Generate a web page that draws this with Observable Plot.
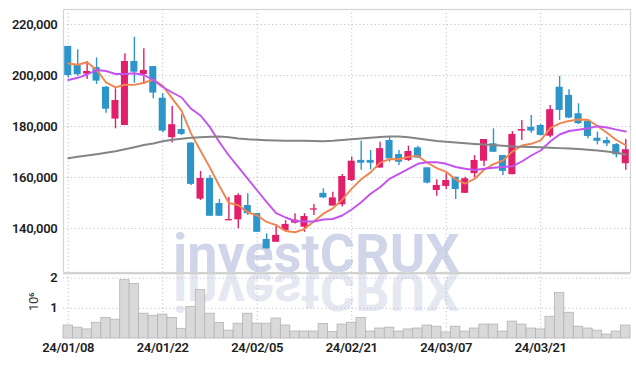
<!DOCTYPE html>
<html><head><meta charset="utf-8">
<script src="https://cdn.jsdelivr.net/npm/d3@7"></script>
<script src="https://cdn.jsdelivr.net/npm/@observablehq/plot@0.6"></script>
<style>
body{margin:0;background:#fff;}
#chart{position:relative;width:636px;height:366px;overflow:hidden;}
#chart svg{display:block;position:absolute;left:0;}
</style></head><body><div id="chart"></div>
<script>
const dates = ["24/01/08","24/01/09","24/01/10","24/01/11","24/01/12","24/01/15","24/01/16","24/01/17","24/01/18","24/01/19",
"24/01/22","24/01/23","24/01/24","24/01/25","24/01/26","24/01/29","24/01/30","24/01/31","24/02/01","24/02/02",
"24/02/05","24/02/06","24/02/07","24/02/08","24/02/13","24/02/14","24/02/15","24/02/16","24/02/19","24/02/20",
"24/02/21","24/02/22","24/02/23","24/02/26","24/02/27","24/02/28","24/02/29","24/03/04","24/03/05","24/03/06",
"24/03/07","24/03/08","24/03/11","24/03/12","24/03/13","24/03/14","24/03/15","24/03/18","24/03/19","24/03/20",
"24/03/21","24/03/22","24/03/25","24/03/26","24/03/27","24/03/28","24/03/29","24/04/01","24/04/02","24/04/03"];
const open = [211400,203900,200500,203100,195400,182900,180400,205500,200400,203500,
191100,175600,178800,173500,151500,159600,149800,143000,143400,149000,
145900,135700,134600,139200,142100,140500,147200,153800,148800,149300,
158800,166700,166700,163700,174500,169000,166700,171600,163800,154900,
156500,160100,153800,161500,166400,173200,168600,161100,178200,179700,
180400,176200,195400,192200,185000,182000,175400,174500,172900,165400];
const high = [211400,210100,205500,206900,195700,194800,208500,215000,210500,203500,
192800,187800,184600,173500,162400,160800,151400,152200,153600,153600,
145900,137900,141600,143100,145800,145800,149400,155600,154200,161200,
168000,174200,170600,173800,175600,170600,172300,172300,163800,159100,
161500,160100,160100,168600,174900,179100,168600,178000,182400,184300,
180800,188200,199600,194400,188900,182400,177800,175800,173300,174900];
const low = [199000,199700,198400,196500,185200,179100,180400,197000,196500,190900,
177500,173500,176500,156900,151000,144800,144800,143000,139900,145100,
138500,132000,134600,139200,141800,138500,145100,151800,148800,148400,
158400,162800,163000,163700,166000,164700,166300,167500,157500,152600,
155200,151400,153700,159900,164300,169900,160800,161100,174500,177400,
176300,175600,182400,183000,180800,175200,172800,172200,167700,162800];
const close = [200000,200300,201600,197800,186800,190200,205500,201300,202000,193100,
178200,180700,176900,157300,159600,144800,144800,143500,152900,145800,
138500,132000,137300,141600,143300,144700,147700,152000,152000,160400,
166400,165600,165600,171300,167300,166000,170200,167600,157800,156900,
158800,155300,159500,166700,174900,169900,162400,176900,178800,178200,
176500,186600,186300,183300,181100,176100,174200,173200,168900,170900];
const volume = [430000,360000,300000,520000,680000,620000,1930000,1800000,820000,750000,
790000,680000,320000,1040000,1600000,820000,510000,260000,490000,820000,
490000,490000,660000,430000,230000,230000,230000,480000,210000,460000,
520000,680000,230000,330000,360000,230000,300000,330000,430000,390000,
200000,390000,230000,330000,460000,460000,230000,560000,460000,330000,
300000,720000,1510000,850000,390000,330000,260000,130000,230000,430000];
const ma5 = [204700,204200,205200,202200,197290,195330,196370,196310,197150,198400,
195990,191030,186140,177200,170510,163840,156670,150010,149140,146370,
145120,142560,141310,139030,138530,139770,142850,145810,147900,151330,
155660,159290,162010,165850,167240,167160,168080,168470,165770,163680,
162240,159260,157640,159430,163030,165250,166670,170140,172570,173220,
174530,179370,181250,182140,182720,182640,180180,177570,174700,172660];
const ma10 = [198240,199100,200390,202160,201770,200590,200590,200900,200200,198240,
195490,193330,191370,186940,184310,179730,173840,168630,164040,159490,
154900,150310,146000,144310,142940,142750,142750,143530,143730,145100,
147450,150310,153610,156200,159490,161450,163410,165370,166000,166000,
165370,164120,163410,162940,163410,163840,164120,164390,166280,168630,
170590,174120,176860,178240,178750,179290,180080,179610,178750,178040];
const ma60 = [167570,168120,168630,169140,169730,170310,171060,171880,172750,173330,
174200,174780,175180,175570,175800,176000,176080,175800,175290,174980,
174780,174630,174510,174390,174390,174390,174310,174240,174430,174710,
174980,175290,175610,175880,176080,176080,175770,175290,174780,174310,
174000,173730,173410,173140,172940,172750,172470,172160,172080,171960,
171840,171690,171530,171370,171180,170860,170590,170200,169690,169020];
const priceTicks = [140000,160000,180000,200000,220000];
const volumeTicks = [1000000,2000000];
const dateTicks = ["24/01/08","24/01/22","24/02/05","24/02/21","24/03/07","24/03/21"];
const maNames = ["MA5","MA10","MA60"];
const maColors = ["#f0854f","#c452f0","#848484"];

const rows = dates.map((d,i)=>({date:d, open:open[i], high:high[i], low:low[i], close:close[i],
  volume:volume[i], dir: close[i] >= open[i] ? "up" : "down"}));
const maRows = [];
[ma5, ma10, ma60].forEach((arr, k) => arr.forEach((v,i) => maRows.push({date:dates[i], value:v, name:maNames[k]})));

const W = 636, ML = 63, MR = 6;
const gridStyle = {stroke:"#a9aecb", strokeOpacity:0.75, strokeDasharray:"1.2,2.6", strokeWidth:1};
const fontStyle = {fontFamily:"Roboto, 'Noto Sans', sans-serif", fontSize:"13px", fontWeight:"600", color:"#1e1e1e", background:"transparent", overflow:"visible", letterSpacing:"-0.3px"};
const xScale = () => ({type:"band", domain:dates, padding:0, round:false, axis:null});

const main = Plot.plot({
  width: W, height: 273, marginLeft: ML, marginRight: MR, marginTop: 9, marginBottom: 1,
  x: xScale(),
  y: {domain:[122745, 225882], axis:null},
  color: {domain:["up","down"], range:["#e11f6a","#2c95c9"]},
  style: fontStyle,
  marks: [
    Plot.gridY(priceTicks, gridStyle),
    Plot.gridX(dateTicks, gridStyle),
    Plot.frame({stroke:"#d4d4d4", strokeWidth:1.2}),
    Plot.axisY(priceTicks, {tickSize:0, tickPadding:6, tickFormat:d3.format(","), label:null}),
    Plot.ruleX(rows, {x:"date", y1:"low", y2:"high", stroke:"dir", strokeWidth:1.4}),
    Plot.barY(rows, {x:"date", y1:"open", y2:"close", fill:"dir", insetLeft:1.2, insetRight:1.2}),
    Plot.line(maRows, {x:"date", y:"value", z:"name", stroke:d => maColors[maNames.indexOf(d.name)], strokeWidth:1.9, curve:"linear"})
  ]
});

const vol = Plot.plot({
  width: W, height: 93, marginLeft: ML, marginRight: MR, marginTop: 0, marginBottom: 28,
  x: xScale(),
  y: {domain:[0, 2150000], axis:null},
  style: fontStyle,
  marks: [
    Plot.gridY(volumeTicks, gridStyle),
    Plot.gridX(dateTicks, gridStyle),
    Plot.barY(rows, {x:"date", y:"volume", fill:"#d9d9d9", stroke:"#b4b4b4", strokeWidth:0.8}),
    Plot.ruleY([2150000], {stroke:"#cfcfcf", strokeWidth:1.4}),
    Plot.axisY(volumeTicks, {tickSize:0, tickPadding:6, tickFormat:d => d/1e6, label:null}),
    Plot.axisX(dateTicks, {tickSize:0, tickPadding:4, label:null}),
    Plot.text(["10⁶"], {frameAnchor:"left", rotate:-90, dx:-30, dy:5, fontSize:13, fontWeight:400, fill:"#333"})
  ]
});

// watermark (behind marks) and its reflection
function addMark(svg, opts) {
  const t = document.createElementNS("http://www.w3.org/2000/svg", "text");
  t.textContent = "investCRUX";
  t.setAttribute("x", opts.x); t.setAttribute("y", opts.y);
  t.setAttribute("text-anchor", "start");
  t.setAttribute("font-family", "Roboto, sans-serif");
  t.setAttribute("font-size", 54); t.setAttribute("font-weight", 700);
  t.setAttribute("letter-spacing", "0");
  t.setAttribute("fill", opts.fill);
  if (opts.transform) t.setAttribute("transform", opts.transform);
  const firstG = svg.querySelector(":scope > g");
  svg.insertBefore(t, firstG);
}
addMark(main, {x:173, y:272, fill:"#d0d5ea"});
addMark(vol, {x:173, y:0, fill:"#e6e8f1", transform:"scale(1,-1)"});

main.style.top = "0px";
vol.style.top = "273px";
document.getElementById("chart").append(main, vol);
</script></body></html>
